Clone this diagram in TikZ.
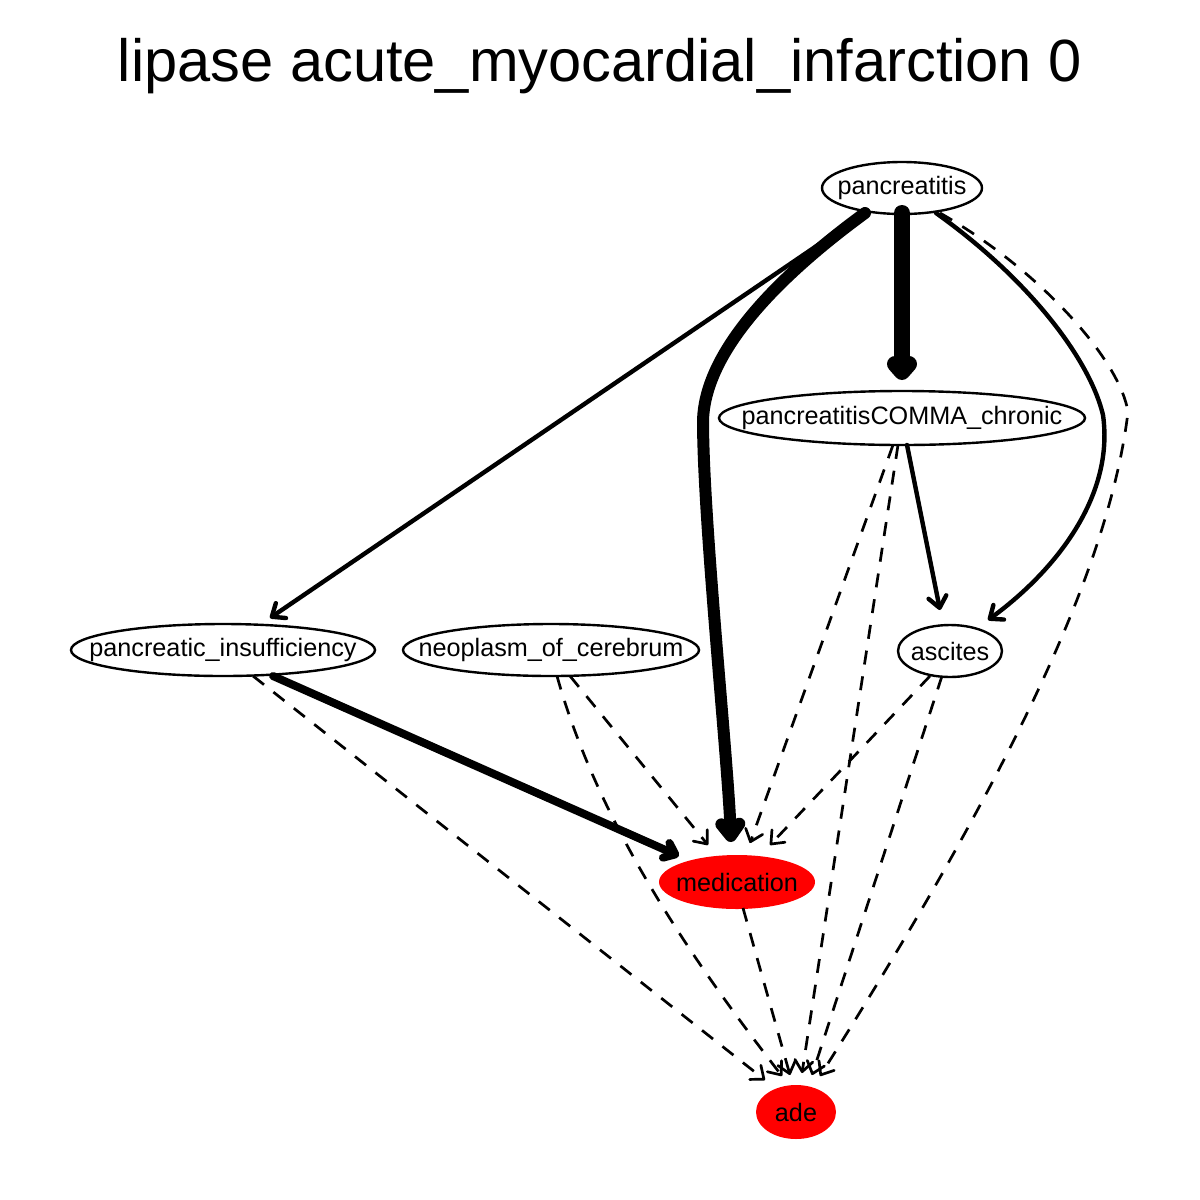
\documentclass[tikz,border=0pt]{standalone}
\usepackage{fontspec}
\setmainfont{Liberation Sans}
\usetikzlibrary{arrows.meta,shapes.geometric}
\begin{document}
\begin{tikzpicture}[x=0.5pt,y=-0.5pt,
  nd/.style={ellipse,draw,line width=1.2pt,inner sep=0pt,font=\fontsize{12.6}{14}\selectfont},
  rednd/.style={nd,draw=none,fill=red},
  edge/.style={line cap=round,line join=round,-{Straight Barb[length=5.5pt,width=9pt,line cap=round,line join=round]}},
  dsh/.style={line width=1.35pt,dash pattern=on 7pt off 6pt,-{Straight Barb[length=5.5pt,width=9pt,line cap=round,line join=round]}},
]
\useasboundingbox (0,0) rectangle (1200,1200);
\node[font=\fontsize{29.8}{34}\selectfont] (title) at (600,66) {lipase acute\_myocardial\_infarction 0};

\node[nd,minimum width=80pt,minimum height=26pt] (p) at (902,188) {\makebox[0pt]{pancreatitis}};
\node[nd,minimum width=183pt,minimum height=27pt] (c) at (902,418) {\makebox[0pt]{pancreatitisCOMMA\_chronic}};
\node[nd,minimum width=152pt,minimum height=26pt] (pi) at (223,650) {\makebox[0pt]{pancreatic\_insufficiency}};
\node[nd,minimum width=148pt,minimum height=26pt] (nc) at (551,650) {\makebox[0pt]{neoplasm\_of\_cerebrum}};
\node[nd,minimum width=52pt,minimum height=26pt] (as) at (950,651) {\makebox[0pt]{ascites}};
\node[rednd,minimum width=78pt,minimum height=27pt] (m) at (737,882) {\makebox[0pt]{medication}};
\node[rednd,minimum width=40pt,minimum height=27pt] (ade) at (796,1112) {\makebox[0pt]{ade}};

% solid edges
\draw[edge,line width=2.2pt] (865,213) -- (270,618);
\draw[edge,line width=6pt,-{Straight Barb[length=6pt,width=9pt,line cap=round,line join=round]}] (865,213) .. controls (760,290) and (705,360) .. (703,420) .. controls (703,520) and (728,760) .. (731,842);
\draw[edge,line width=8pt,-{Straight Barb[length=4pt,width=7pt,line cap=round,line join=round]}] (902,213) -- (902,380);
\draw[edge,line width=2.2pt] (936,213) .. controls (1030,280) and (1090,360) .. (1103,415) .. controls (1115,500) and (1050,575) .. (988,620);
\draw[edge,line width=2.2pt] (907,445) -- (940,610);
\draw[edge,line width=4pt,-{Straight Barb[length=5pt,width=8pt,line cap=round,line join=round]}] (273,676) -- (679,856);

% dashed edges
\draw[dsh] (940,213) .. controls (1040,270) and (1120,360) .. (1128,412) .. controls (1110,560) and (1020,760) .. (820,1076);
\draw[dsh] (893,445) -- (750,843);
\draw[dsh] (898,445) -- (802,1073);
\draw[dsh] (253,676) -- (765,1080);
\draw[dsh] (570,676) -- (708,845);
\draw[dsh] (557,676) .. controls (600,830) and (700,970) .. (782,1076);
\draw[dsh] (930,676) -- (770,845);
\draw[dsh] (942,676) -- (812,1075);
\draw[dsh] (743,908) -- (790,1075);
\end{tikzpicture}
\end{document}
